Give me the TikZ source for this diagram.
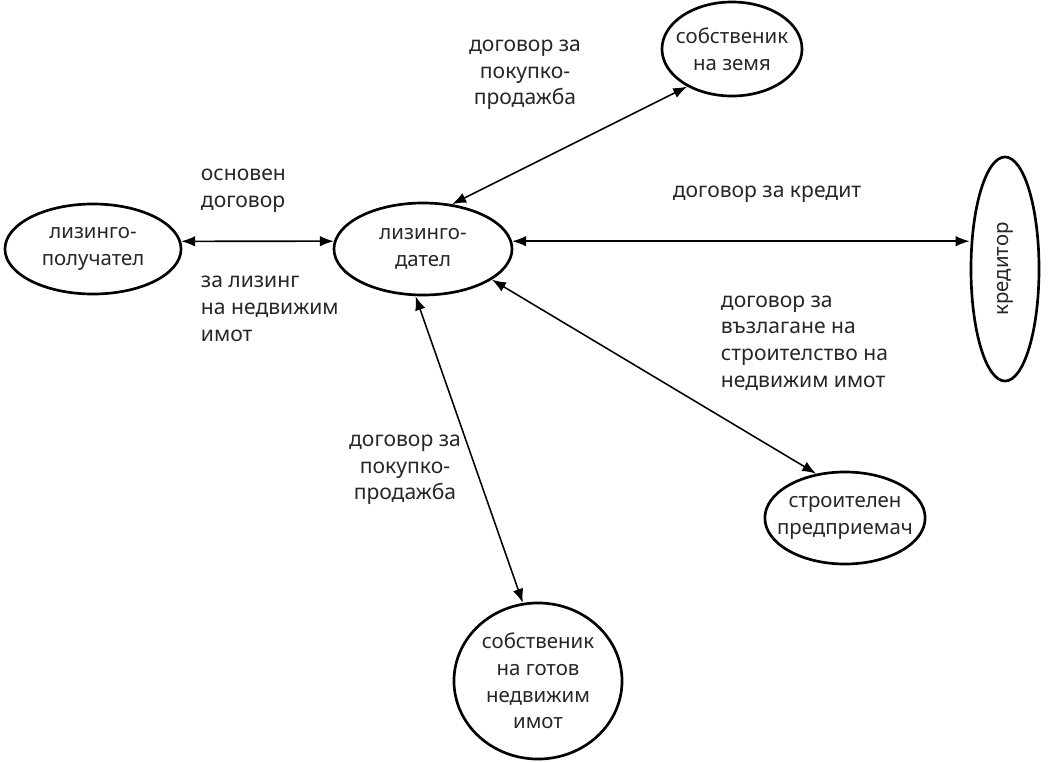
\documentclass[tikz,border=0pt]{standalone}
\usepackage{fontspec}
\setmainfont{Noto Sans}[Script=Cyrillic, Language=Bulgarian]
\usepackage{graphicx}
\usepackage{tikz}
\usetikzlibrary{shapes.geometric, arrows.meta, positioning}

\begin{document}
\begin{tikzpicture}[x=0.025cm, y=-0.025cm]
		\tikzset{
			oval/.style={ellipse, draw, line width=1.9pt, black, align=center, inner xsep=-8pt, inner ysep=0pt,
			font=\fontsize{14.5}{19}\selectfont, text=black!85},
			deal/.style={align=left, font=\fontsize{15}{19}\selectfont, text=black!85},
			link/.style={{Latex[length=10pt,width=7.5pt]}-{Latex[length=10pt,width=7.5pt]}, line width=1.1pt}
		}
		\useasboundingbox (0,0) rectangle (1053,762);

		\node[oval, minimum width=4.4cm, minimum height=2.25cm] (lessee) at (93,249) {лизинго-\\получател};
		\node[oval, minimum width=4.45cm, minimum height=2.3cm] (lessor) at (423,249) {лизинго-\\дател};
		\node[oval, minimum width=3.5cm, minimum height=2.35cm] (land) at (732,49) {собственик\\на земя};
		\node[oval, minimum width=1.7cm, minimum height=5.6cm] (lender) at (1005,269) {\rotatebox{90}{кредитор}};
		\node[oval, minimum width=3.95cm, minimum height=2.3cm] (builder) at (845,518) {строителен\\предприемач};
		\node[oval, minimum width=4.2cm, minimum height=3.9cm] (owner) at (538,681) {собственик\\на готов\\недвижим\\имот};

		\node[deal, anchor=west] (main) at (196,191) {основен\\договор};
		\node[deal, anchor=west] (mainb) at (196,309) {за лизинг\\на недвижим\\имот};
		\node[deal, align=center] (buyland) at (525,75) {договор за\\покупко-\\продажба};
		\node[deal] (credit) at (767,194) {договор за кредит};
		\node[deal, anchor=west] (constr) at (716,343) {договор за\\възлагане на\\строителство на\\недвижим имот};
		\node[deal, align=center] (buyhome) at (405,470) {договор за\\покупко-\\продажба};

		\draw[link](lessee.5) -- (lessor.175);
		\draw[link](lessor.57) -- (land.220);
		\draw[link](lessor.5) -- (lessor.5 -| lender.west);
		\draw[link](lessor.-24) -- (builder.123);
		\draw[link](lessor.261) -- (owner.101);

\end{tikzpicture}
\end{document}
